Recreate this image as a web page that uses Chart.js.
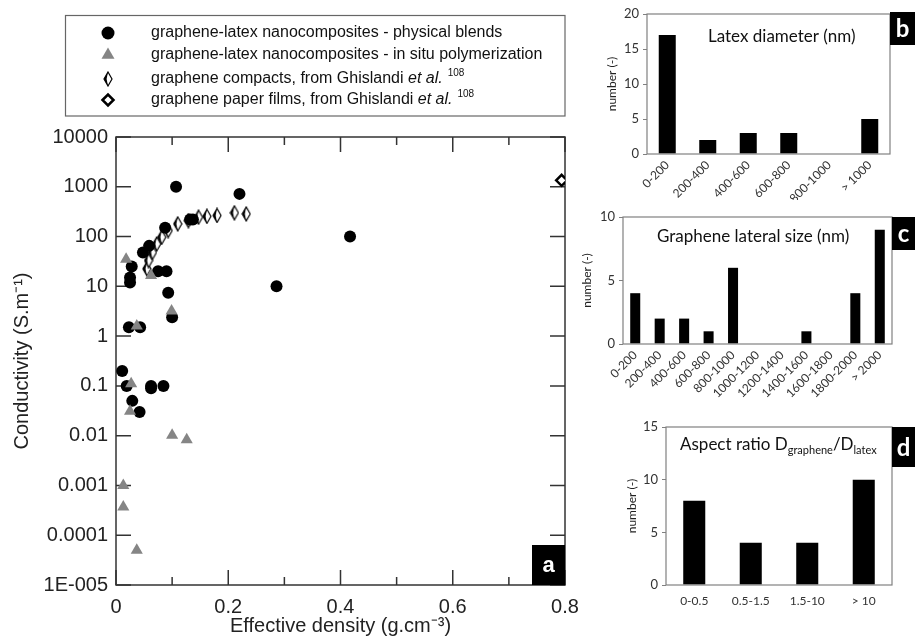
<!DOCTYPE html>
<html>
<head>
<meta charset="utf-8">
<script src="https://cdn.jsdelivr.net/npm/chart.js"></script>
<style>
  html, body { margin: 0; padding: 0; background: #fff; }
  body { width: 915px; height: 638px; position: relative; overflow: hidden; }
  canvas { position: absolute; }
</style>
</head>
<body>
<canvas id="main" width="580" height="638" style="left:0;top:0"></canvas>
<canvas id="latex" width="335" height="200" style="left:580px;top:0"></canvas>
<canvas id="lateral" width="335" height="200" style="left:580px;top:200px"></canvas>
<canvas id="aspect" width="335" height="238" style="left:580px;top:400px"></canvas>
<script>
// panel a: conductivity vs effective density
const blendX = [0.107, 0.220, 0.286, 0.417, 0.132, 0.137, 0.0875, 0.059, 0.048, 0.075, 0.090, 0.028, 0.025, 0.025, 0.093, 0.100, 0.023, 0.043, 0.011, 0.019, 0.0625, 0.0625, 0.0845, 0.029, 0.042];
const blendY = [1000, 720, 10, 100, 220, 220, 150, 65, 48, 20, 20, 25, 15, 12, 7.4, 2.4, 1.5, 1.5, 0.2, 0.1, 0.1, 0.09, 0.1, 0.05, 0.03];
const situX = [0.018, 0.0625, 0.099, 0.037, 0.027, 0.025, 0.100, 0.126, 0.013, 0.013, 0.037];
const situY = [35, 16.5, 3.2, 1.6, 0.11, 0.031, 0.0102, 0.0083, 0.001, 0.00037, 0.00005];
const compactX = [0.055, 0.058, 0.065, 0.0726, 0.0815, 0.093, 0.110, 0.129, 0.147, 0.162, 0.180, 0.211, 0.232];
const compactY = [22.5, 33, 48, 71, 97, 132, 180, 209, 245, 255, 265, 300, 285];
const paperX = [0.794];
const paperY = [1350];

const xMajor = [0, 0.2, 0.4, 0.6, 0.8];
const xMinor = [0.1, 0.3, 0.5, 0.7];
const yDecades = [1e-5, 1e-4, 1e-3, 1e-2, 1e-1, 1, 10, 100, 1000, 10000];
const yLabels = ['1E-005', '0.0001', '0.001', '0.01', '0.1', '1', '10', '100', '1000', '10000'];

const legendRows = [
    ['graphene-latex nanocomposites - physical blends'],
    ['graphene-latex nanocomposites - in situ polymerization'],
    ['graphene compacts, from Ghislandi ', 'et al.', '108'],
    ['graphene paper films, from Ghislandi ', 'et al.', '108'],
];

// panels b, c, d: histograms
const latexCats = ['0-200', '200-400', '400-600', '600-800', '800-1000', '> 1000'];
const latexCounts = [17, 2, 3, 3, 0, 5];
const lateralCats = ['0-200', '200-400', '400-600', '600-800', '800-1000', '1000-1200', '1200-1400', '1400-1600', '1600-1800', '1800-2000', '> 2000'];
const lateralCounts = [4, 2, 2, 1, 6, 0, 0, 1, 0, 4, 9];
const aspectCats = ['0-0.5', '0.5-1.5', '1.5-10', '> 10'];
const aspectCounts = [8, 4, 4, 10];

const arial = 'Liberation Sans, Arial, sans-serif';
const calibri = 'Lato, sans-serif';
const ink = '#222';

function compactMarker() {
    const c = document.createElement('canvas');
    c.width = 10;
    c.height = 16;
    const g = c.getContext('2d');
    g.beginPath();
    g.moveTo(5, 1); g.lineTo(9, 8); g.lineTo(5, 15); g.lineTo(1, 8); g.closePath();
    g.fillStyle = '#fff';
    g.fill();
    g.lineWidth = 1.2;
    g.strokeStyle = '#000';
    g.stroke();
    g.beginPath();
    g.moveTo(5, 1); g.lineTo(1, 8); g.lineTo(5, 15); g.lineTo(3.6, 8); g.closePath();
    g.fillStyle = '#000';
    g.fill();
    return c;
}

const toPoints = (xs, ys) => xs.map((x, i) => ({ x: x, y: ys[i] }));

function blackBox(ctx, x, y, w, h, letter, font) {
    ctx.save();
    ctx.fillStyle = '#000';
    ctx.fillRect(x, y, w, h);
    ctx.fillStyle = '#fff';
    ctx.font = font;
    ctx.textAlign = 'center';
    ctx.textBaseline = 'middle';
    ctx.fillText(letter, x + w / 2, y + h / 2 + 1);
    ctx.restore();
}

const frameA = {
    id: 'frameA',
    beforeDatasetsDraw(chart) {
        const { ctx, chartArea: a, scales } = chart;
        ctx.save();
        ctx.strokeStyle = '#333';
        ctx.lineWidth = 1.5;
        ctx.strokeRect(a.left, a.top, a.right - a.left, a.bottom - a.top);
        ctx.beginPath();
        yDecades.forEach(v => {
            const py = scales.y.getPixelForValue(v);
            ctx.moveTo(a.left, py); ctx.lineTo(a.left + 15, py);
            ctx.moveTo(a.right, py); ctx.lineTo(a.right - 15, py);
        });
        xMajor.forEach(v => {
            const px = scales.x.getPixelForValue(v);
            ctx.moveTo(px, a.top); ctx.lineTo(px, a.top + 15);
            ctx.moveTo(px, a.bottom); ctx.lineTo(px, a.bottom - 15);
        });
        xMinor.forEach(v => {
            const px = scales.x.getPixelForValue(v);
            ctx.moveTo(px, a.top); ctx.lineTo(px, a.top + 8);
            ctx.moveTo(px, a.bottom); ctx.lineTo(px, a.bottom - 8);
        });
        ctx.stroke();
        ctx.restore();
    },
    afterDraw(chart) {
        const { ctx, chartArea: a } = chart;
        blackBox(ctx, a.right - 33, a.bottom - 40, 33, 40, 'a', 'bold 22px ' + arial);

        // legend
        ctx.save();
        ctx.strokeStyle = '#666';
        ctx.lineWidth = 1.2;
        ctx.strokeRect(65.5, 15.5, a.right - 65.5, 100.5);
        const rowY = [33, 55, 79, 100];
        chart.data.datasets.forEach((ds, i) => {
            const y = rowY[i];
            ctx.fillStyle = ds.backgroundColor || '#000';
            ctx.strokeStyle = ds.borderColor || '#000';
            ctx.lineWidth = ds.borderWidth || 0;
            Chart.helpers.drawPoint(ctx, {
                pointStyle: ds.pointStyle,
                radius: ds.pointRadius + (i < 2 ? 0.5 : 0),
                rotation: 0,
                borderWidth: ds.borderWidth || 0,
            }, 108, y);
            const parts = legendRows[i];
            let x = 151;
            ctx.fillStyle = '#111';
            ctx.textBaseline = 'middle';
            ctx.textAlign = 'left';
            ctx.font = '16px ' + arial;
            ctx.fillText(parts[0], x, y);
            x += ctx.measureText(parts[0]).width;
            if (parts.length > 1) {
                ctx.font = 'italic 16px ' + arial;
                ctx.fillText(parts[1], x, y);
                x += ctx.measureText(parts[1]).width + 5;
                ctx.font = '10px ' + arial;
                ctx.fillText(parts[2], x, y - 6);
            }
        });
        ctx.restore();
    }
};

new Chart(document.getElementById('main'), {
    type: 'scatter',
    data: {
        datasets: [
            { data: toPoints(blendX, blendY), pointStyle: 'circle', pointRadius: 6, backgroundColor: '#000', borderWidth: 0, order: 1 },
            { data: toPoints(situX, situY), pointStyle: 'triangle', pointRadius: 7, backgroundColor: '#858585', borderWidth: 0, order: 0 },
            { data: toPoints(compactX, compactY), pointStyle: compactMarker(), pointRadius: 7, backgroundColor: '#000', borderWidth: 0, order: 2 },
            { data: toPoints(paperX, paperY), pointStyle: 'rectRot', pointRadius: 5.5, backgroundColor: '#fff', borderColor: '#000', borderWidth: 2.5, order: 3 },
        ]
    },
    options: {
        responsive: false,
        animation: false,
        events: [],
        layout: { padding: { top: 137, right: 15, left: 0, bottom: 0 } },
        plugins: { legend: { display: false }, tooltip: { enabled: false } },
        scales: {
            x: {
                type: 'linear',
                min: 0,
                max: 0.8,
                afterBuildTicks: s => { s.ticks = xMajor.map(v => ({ value: v })); },
                afterFit: s => { s.height = 53; s.paddingLeft = 0; s.paddingRight = 0; },
                grid: { display: false, drawTicks: false },
                border: { display: false },
                ticks: { padding: 10, color: ink, font: { family: arial, size: 20 }, callback: v => String(v) },
                title: { display: true, text: 'Effective density (g.cm⁻³)', color: ink, font: { family: arial, size: 20 }, padding: 0 }
            },
            y: {
                type: 'logarithmic',
                min: 1e-5,
                max: 1e4,
                afterBuildTicks: s => { s.ticks = yDecades.map(v => ({ value: v })); },
                afterFit: s => { s.width = 116; s.paddingTop = 0; s.paddingBottom = 0; },
                grid: { display: false, drawTicks: false },
                border: { display: false },
                ticks: { padding: 8, color: ink, font: { family: arial, size: 20 }, callback: (v, i) => yLabels[i] },
                title: { display: true, text: 'Conductivity (S.m⁻¹)', color: ink, font: { family: arial, size: 20 }, padding: { top: 10, bottom: 0 } }
            }
        }
    },
    plugins: [frameA]
});

function histogram(id, cats, counts, o) {
    const canvas = document.getElementById(id);
    const W = canvas.width;
    const H = canvas.height;
    const framePlugin = {
        id: 'frame_' + id,
        afterDatasetsDraw(chart) {
            const { ctx, chartArea: a } = chart;
            ctx.save();
            ctx.strokeStyle = '#808080';
            ctx.lineWidth = 1.2;
            ctx.strokeRect(a.left, a.top, a.right - a.left, a.bottom - a.top);
            ctx.restore();
            o.drawTitle(ctx);
            blackBox(ctx, a.right, o.boxTop, W - a.right, o.boxH, o.letter, 'bold 24px ' + calibri);
        }
    };
    new Chart(canvas, {
        type: 'bar',
        data: {
            labels: cats,
            datasets: [{ data: counts, backgroundColor: '#000', barPercentage: o.barPct, categoryPercentage: 1 }]
        },
        options: {
            responsive: false,
            animation: false,
            events: [],
            layout: { padding: { top: o.top, right: W - o.right, left: 0, bottom: 0 } },
            plugins: { legend: { display: false }, tooltip: { enabled: false } },
            scales: {
                x: {
                    afterFit: s => { s.height = H - o.bottom; s.paddingLeft = 0; s.paddingRight = 0; },
                    grid: { display: false, drawTicks: false },
                    border: { display: false },
                    ticks: { autoSkip: false, minRotation: o.rot, maxRotation: o.rot, padding: o.xPad, color: '#333', font: { family: calibri, size: o.xFont } }
                },
                y: {
                    min: 0,
                    max: o.max,
                    afterFit: s => { s.width = o.left; s.paddingTop = 0; s.paddingBottom = 0; },
                    grid: { drawOnChartArea: false, tickLength: 4, color: '#808080' },
                    border: { display: false },
                    ticks: { stepSize: 5, padding: 4, color: '#333', font: { family: calibri, size: 13 } },
                    title: { display: true, text: 'number (-)', color: ink, font: { family: calibri, size: 12 }, padding: { top: o.titlePad, bottom: 0 } }
                }
            }
        },
        plugins: [framePlugin]
    });
}

function plainTitle(text, x, y, size) {
    return ctx => {
        ctx.save();
        ctx.fillStyle = '#111';
        ctx.font = size + 'px ' + calibri;
        ctx.textAlign = 'left';
        ctx.textBaseline = 'middle';
        ctx.fillText(text, x, y);
        ctx.restore();
    };
}

histogram('latex', latexCats, latexCounts, {
    left: 67, top: 14, right: 310, bottom: 154, max: 20, barPct: 0.42, rot: 45, xPad: 4, xFont: 12,
    titlePad: 25, letter: 'b', boxTop: 12, boxH: 33,
    drawTitle: plainTitle('Latex diameter (nm)', 128, 37, 17)
});

histogram('lateral', lateralCats, lateralCounts, {
    left: 43, top: 17, right: 312, bottom: 144, max: 10, barPct: 0.41, rot: 45, xPad: 4, xFont: 12,
    titlePad: 0, letter: 'c', boxTop: 17, boxH: 33,
    drawTitle: plainTitle('Graphene lateral size (nm)', 77, 37, 17)
});

histogram('aspect', aspectCats, aspectCounts, {
    left: 86, top: 27, right: 312, bottom: 185, max: 15, barPct: 0.39, rot: 0, xPad: 9, xFont: 12,
    titlePad: 45, letter: 'd', boxTop: 27, boxH: 40,
    drawTitle: ctx => {
        const parts = [['Aspect ratio D', 17, 0], ['graphene', 11, 5], ['/D', 17, 0], ['latex', 11, 5]];
        let x = 100;
        ctx.save();
        ctx.fillStyle = '#111';
        ctx.textAlign = 'left';
        ctx.textBaseline = 'middle';
        parts.forEach(p => {
            ctx.font = p[1] + 'px ' + calibri;
            ctx.fillText(p[0], x, 45 + p[2]);
            x += ctx.measureText(p[0]).width;
        });
        ctx.restore();
    }
});
</script>
</body>
</html>
